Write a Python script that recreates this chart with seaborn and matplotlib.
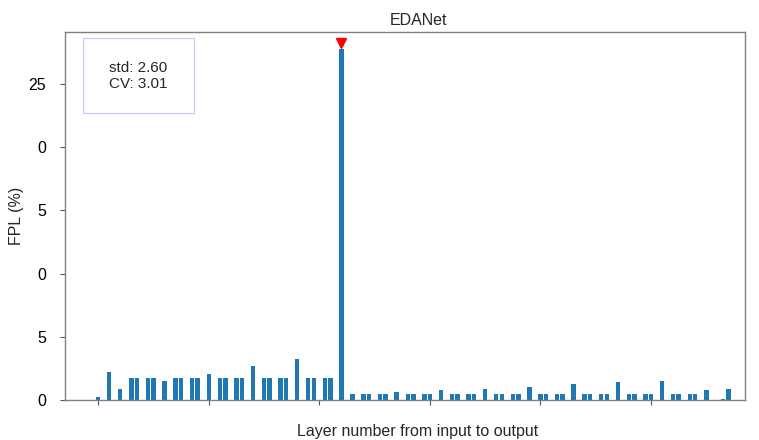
import seaborn as sns
import matplotlib.pyplot as plt
from matplotlib.patches import Rectangle

# FPL (%) per layer (zero = layer with no share)
fpl = [0.2, 0.03, 2.2, 0.03, 0.9, 0,
       1.75, 1.75, 0, 1.75, 1.75, 0, 1.48, 0,
       1.75, 1.75, 0, 1.75, 1.75, 0, 2.08, 0,
       1.75, 1.75, 0, 1.75, 1.75, 0, 2.66, 0,
       1.75, 1.75, 0, 1.75, 1.75, 0, 3.24, 0,
       1.75, 1.75, 0, 1.75, 1.75, 0, 27.75, 0,
       0.47, 0, 0.44, 0.44, 0, 0.44, 0.44, 0,
       0.63, 0, 0.44, 0.44, 0, 0.44, 0.44, 0,
       0.77, 0, 0.44, 0.44, 0, 0.44, 0.44, 0,
       0.9, 0, 0.44, 0.44, 0, 0.44, 0.44, 0,
       1.05, 0, 0.44, 0.44, 0, 0.44, 0.44, 0,
       1.24, 0, 0.44, 0.44, 0, 0.44, 0.44, 0,
       1.4, 0, 0.44, 0.44, 0, 0.44, 0.44, 0,
       1.5, 0, 0.44, 0.44, 0, 0.44, 0.44, 0,
       0.82, 0, 0, 0.08, 0.88]
layers = list(range(len(fpl)))
peak_layer = 44
y_ticks = [0, 5, 10, 15, 20, 25]
y_ticklabels = ['0', '5', '0', '5', '0', '25']
x_ticks = [0, 20, 40, 60, 80, 100]
stats_text = 'std: 2.60\nCV: 3.01'

sns.set_style('white')
plt.rcParams['font.family'] = ['Liberation Sans', 'DejaVu Sans']

fig = plt.figure(figsize=(7.59, 4.40), dpi=100)
ax = fig.add_axes([0.0856, 0.0909, 0.896, 0.836])

sns.barplot(x=layers, y=fpl, color='#1f77b4', saturation=1, width=0.8,
            linewidth=0, ax=ax)

# red marker over the largest layer
ax.plot([peak_layer], [max(fpl) * 1.018], marker='v', color='red',
        markersize=7, linestyle='none')

ax.set_xlim(-6, 117)
ax.set_ylim(0, 29.1)
ax.set_xticks(x_ticks)
ax.set_xticklabels([''] * len(x_ticks))
ax.set_yticks(y_ticks)
ax.set_yticklabels(y_ticklabels, fontsize=11.5)
ax.tick_params(axis='both', colors='#555555', length=3.5, width=0.8,
               labelcolor='black', bottom=True, left=True)
ax.tick_params(axis='y', pad=10)

for sp in ax.spines.values():
    sp.set_visible(True)
    sp.set_color('#808080')
    sp.set_linewidth(1.0)

ax.set_title('EDANet', fontsize=11.5, pad=5, x=0.52)
ax.set_xlabel('Layer number from input to output', fontsize=11.5,
              labelpad=10, x=0.518)
ax.set_ylabel('FPL (%)', fontsize=11.5)
ax.yaxis.set_label_coords(-0.06, 0.5)

# stats box
ax.add_patch(Rectangle((0.026, 0.78), 0.164, 0.204, transform=ax.transAxes,
                       fill=False, edgecolor='#c8c8f5', linewidth=0.8))
ax.text(0.108, 0.88, stats_text, transform=ax.transAxes, ha='center',
        va='center', multialignment='left', fontsize=11)

fig.savefig('out.png', dpi=100)
